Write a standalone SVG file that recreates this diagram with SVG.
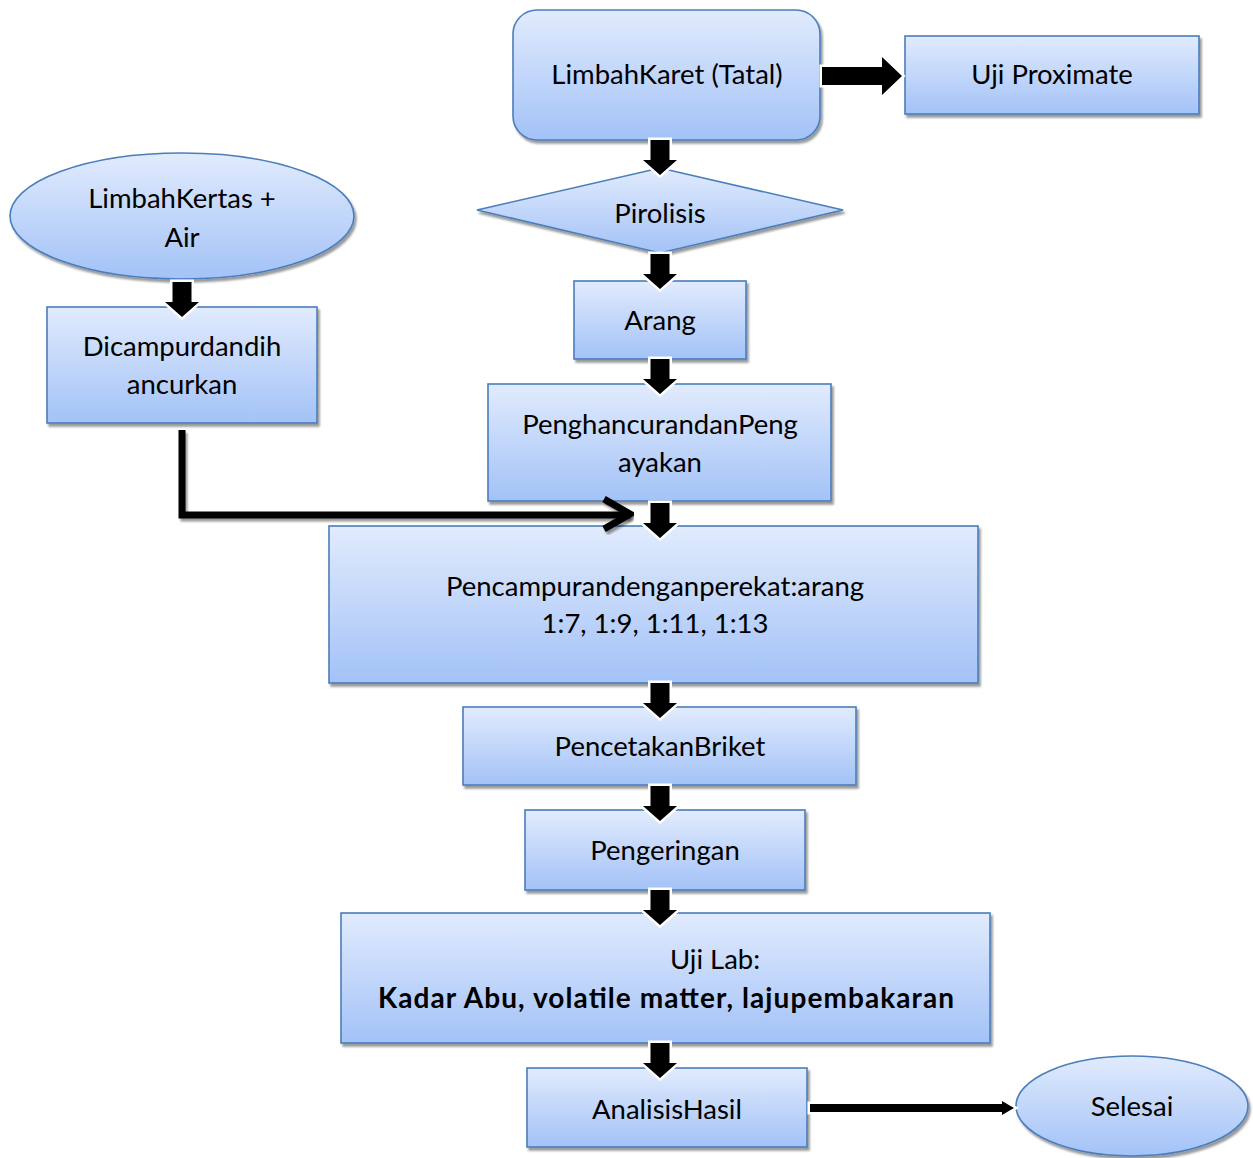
<svg xmlns="http://www.w3.org/2000/svg" xmlns:xlink="http://www.w3.org/1999/xlink" width="1253" height="1158" viewBox="0 0 1253 1158">
<defs>
<linearGradient id="g" x1="0" y1="0" x2="0" y2="1">
<stop offset="0" stop-color="#e1ebfd"/>
<stop offset="1" stop-color="#a3c2f7"/>
</linearGradient>
<filter id="sh" x="-10%" y="-10%" width="125%" height="130%">
<feDropShadow dx="2" dy="3" stdDeviation="1.2" flood-color="#000" flood-opacity="0.4"/>
</filter>
<path id="dn" d="M-9.5,0 H9.5 V20 H17 L0,35 L-17,20 H-9.5 Z"/>
</defs>
<style>
.n{fill:url(#g);stroke:#4a7ebb;stroke-width:1.6;filter:url(#sh)}
.t{font-family:Lato,"Open Sans","Liberation Sans",sans-serif;font-size:27.5px;fill:#000;text-anchor:middle}
.b{font-weight:bold;font-size:28px}
.ba{fill:#000;stroke:#fff;stroke-width:5;paint-order:stroke;stroke-linejoin:miter}
.ln{fill:none;stroke:#000;stroke-width:7;filter:url(#sh)}
</style>
<rect width="1253" height="1158" fill="#fff"/>

<g id="limbahkaret"><rect class="n" x="513" y="10" width="307" height="130" rx="24"/><text class="t" x="667" y="84">LimbahKaret (Tatal)</text></g>
<g id="ujiproximate"><rect class="n" x="905" y="36" width="294" height="78"/><text class="t" x="1052" y="84">Uji Proximate</text></g>
<g id="pirolisis"><polygon class="n" points="477,210 660,168 843,210 660,253"/><text class="t" x="660" y="223">Pirolisis</text></g>
<g id="arang"><rect class="n" x="574" y="281" width="172" height="78"/><text class="t" x="660" y="330">Arang</text></g>
<g id="penghancuran"><rect class="n" x="488" y="384" width="343" height="117"/><text class="t" x="660" y="434">PenghancurandanPeng</text><text class="t" x="660" y="472">ayakan</text></g>
<g id="limbahkertas"><ellipse class="n" cx="182" cy="216" rx="172" ry="63"/><text class="t" x="182" y="208">LimbahKertas +</text><text class="t" x="182" y="247">Air</text></g>
<g id="dicampur"><rect class="n" x="47" y="307" width="270" height="116"/><text class="t" x="182" y="356">Dicampurdandih</text><text class="t" x="182" y="394">ancurkan</text></g>
<g id="pencampuran"><rect class="n" x="329" y="526" width="649" height="157"/><text class="t" x="655" y="596">Pencampurandenganperekat:arang</text><text class="t" x="655" y="633">1:7, 1:9, 1:11, 1:13</text></g>
<g id="pencetakan"><rect class="n" x="463" y="707" width="393" height="78"/><text class="t" x="660" y="756">PencetakanBriket</text></g>
<g id="pengeringan"><rect class="n" x="525" y="810" width="280" height="80"/><text class="t" x="665" y="860">Pengeringan</text></g>
<g id="ujilab"><rect class="n" x="341" y="913" width="649" height="130"/><text class="t" x="715" y="969">Uji Lab:</text><text class="t b" x="666" y="1008" textLength="576">Kadar Abu, volatile matter, lajupembakaran</text></g>
<g id="analisis"><rect class="n" x="527" y="1068" width="280" height="79"/><text class="t" x="667" y="1119">AnalisisHasil</text></g>
<g id="selesai"><ellipse class="n" cx="1132" cy="1106" rx="116" ry="50"/><text class="t" x="1132" y="1116">Selesai</text></g>

<g id="connectors">
<path class="ln" d="M182,430 V515 H630"/>
<path class="ln" d="M604,499 L630,514 L604,529" stroke-linejoin="miter"/>
<path class="ba" d="M822,67 H882 V57 L902,76 L882,95 V85 H822 Z"/>
<path class="ba" d="M810,1104 H1002 V1101 L1014,1108 L1002,1115 V1112 H810 Z" stroke-width="3"/>
<use class="ba" href="#dn" x="660" y="140"/>
<use class="ba" href="#dn" x="660" y="254"/>
<use class="ba" href="#dn" x="660" y="359"/>
<use class="ba" href="#dn" x="660" y="503"/>
<use class="ba" href="#dn" x="660" y="683"/>
<use class="ba" href="#dn" x="660" y="786"/>
<use class="ba" href="#dn" x="660" y="890"/>
<use class="ba" href="#dn" x="660" y="1043"/>
<use class="ba" href="#dn" x="182" y="282"/>
</g>
</svg>
